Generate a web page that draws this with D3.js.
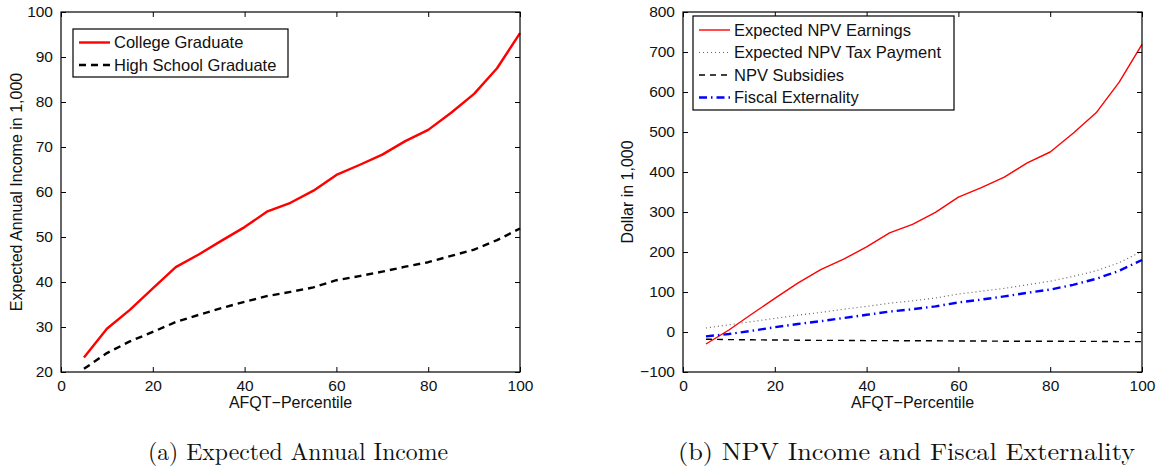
<!DOCTYPE html>
<html>
<head>
<meta charset="utf-8">
<script src="https://cdn.jsdelivr.net/npm/d3@7"></script>
<style>
  html, body { margin: 0; padding: 0; background: #fff; }
  svg { display: block; }
</style>
</head>
<body>
<svg id="chart" width="1161" height="471"></svg>
<script>
// AFQT percentiles shared by both panels
const percentiles = [5, 10, 15, 20, 25, 30, 35, 40, 45, 50, 55, 60, 65, 70, 75, 80, 85, 90, 95, 100];

// Panel (a): expected annual income, in 1,000
const collegeIncome = [23.2, 29.6, 33.8, 38.6, 43.3, 46.1, 49.2, 52.2, 55.7, 57.6, 60.3, 63.8, 66.0, 68.3, 71.3, 73.8, 77.6, 81.8, 87.5, 95.3];
const highSchoolIncome = [20.7, 24.2, 26.8, 28.9, 31.1, 32.7, 34.2, 35.6, 36.9, 37.8, 38.8, 40.4, 41.3, 42.3, 43.4, 44.4, 45.8, 47.2, 49.3, 51.9];

// Panel (b): NPV values, dollars in 1,000
const npvEarnings = [-30, 5, 45, 84, 122, 156, 182, 213, 248, 269, 299, 337, 361, 387, 423, 450, 497, 548, 624, 719];
const npvTaxPayment = [10, 18, 26, 34, 42, 49, 57, 64, 72, 78, 85, 95, 102, 109, 118, 127, 139, 153, 173, 202];
const npvSubsidies = [-18, -19, -19.5, -20, -20.5, -21, -21, -21.5, -21.5, -22, -22, -22.5, -22.5, -23, -23, -23, -23.5, -23.5, -24, -24];
const fiscalExternality = [-11, -5, 3, 12, 20, 27, 35, 43, 51, 57, 64, 74, 81, 89, 98, 106, 118, 133, 153, 180];

// Tick labels
const xTicks = [0, 20, 40, 60, 80, 100];
const yTicksA = [20, 30, 40, 50, 60, 70, 80, 90, 100];
const yTicksB = [-100, 0, 100, 200, 300, 400, 500, 600, 700, 800];

const svg = d3.select("#chart");
const sans = "'Liberation Sans', Arial, Helvetica, sans-serif";
const serif = "'Latin Modern Roman', 'CMU Serif', 'Liberation Serif', 'DejaVu Serif', serif";
const minus = v => String(v).replace("-", "\u2212");

function drawPanel(cfg) {
  const x = d3.scaleLinear().domain([0, 100]).range([cfg.left, cfg.right]);
  const y = d3.scaleLinear().domain(cfg.yDomain).range([cfg.bottom, cfg.top]);
  const g = svg.append("g");
  const tickLen = 5;

  // Series lines
  const line = d3.line().x((d, i) => x(percentiles[i])).y(d => y(d));
  cfg.series.forEach(s => {
    g.append("path")
      .attr("d", line(s.values))
      .attr("fill", "none")
      .attr("stroke", s.color)
      .attr("stroke-width", s.width)
      .attr("stroke-dasharray", s.dash || null)
      .attr("stroke-linejoin", "round");
  });

  // Axes: bottom/left with labels, top/right mirrored ticks (inside)
  const bottomAxis = d3.axisBottom(x).tickValues(xTicks).tickSizeInner(-tickLen).tickSizeOuter(0).tickPadding(8);
  const topAxis = d3.axisTop(x).tickValues(xTicks).tickSizeInner(-tickLen).tickSizeOuter(0).tickFormat("");
  const leftAxis = d3.axisLeft(y).tickValues(cfg.yTicks).tickSizeInner(-tickLen).tickSizeOuter(0).tickPadding(8).tickFormat(minus);
  const rightAxis = d3.axisRight(y).tickValues(cfg.yTicks).tickSizeInner(-tickLen).tickSizeOuter(0).tickFormat("");

  const axes = [
    g.append("g").attr("transform", `translate(0,${cfg.bottom})`).call(bottomAxis),
    g.append("g").attr("transform", `translate(0,${cfg.top})`).call(topAxis),
    g.append("g").attr("transform", `translate(${cfg.left},0)`).call(leftAxis),
    g.append("g").attr("transform", `translate(${cfg.right},0)`).call(rightAxis)
  ];
  axes.forEach(a => {
    a.select(".domain").remove();
    a.selectAll(".tick line").attr("stroke", "#000").attr("stroke-width", 1);
    a.selectAll(".tick text").attr("fill", "#111").style("font-family", sans).style("font-size", "15.5px");
  });

  // Plot frame
  g.append("rect")
    .attr("x", cfg.left).attr("y", cfg.top)
    .attr("width", cfg.right - cfg.left).attr("height", cfg.bottom - cfg.top)
    .attr("fill", "none").attr("stroke", "#000").attr("stroke-width", 1.2);

  // Axis titles
  g.append("text")
    .attr("x", (cfg.left + cfg.right) / 2).attr("y", cfg.bottom + 36)
    .attr("text-anchor", "middle")
    .style("font-family", sans).style("font-size", "16px").attr("fill", "#111")
    .text("AFQT\u2212Percentile");
  g.append("text")
    .attr("transform", `translate(${cfg.yTitleX},${(cfg.top + cfg.bottom) / 2}) rotate(-90)`)
    .attr("text-anchor", "middle")
    .style("font-family", sans).style("font-size", "16px").attr("fill", "#111")
    .text(cfg.yTitle);

  // Legend
  const lg = cfg.legend;
  g.append("rect")
    .attr("x", lg.x).attr("y", lg.y).attr("width", lg.w).attr("height", lg.h)
    .attr("fill", "#fff").attr("stroke", "#000").attr("stroke-width", 1.2);
  cfg.series.forEach((s, i) => {
    const ry = lg.y + lg.first + i * lg.step;
    g.append("line")
      .attr("x1", lg.x + 6).attr("x2", lg.x + 37)
      .attr("y1", ry).attr("y2", ry)
      .attr("stroke", s.color).attr("stroke-width", s.width)
      .attr("stroke-dasharray", s.dash || null);
    g.append("text")
      .attr("x", lg.x + 41).attr("y", ry)
      .attr("dy", "0.35em")
      .style("font-family", sans).style("font-size", "16.5px").attr("fill", "#111")
      .text(s.name);
  });

  // Caption
  svg.append("text")
    .attr("x", cfg.captionX).attr("y", 460)
    .attr("text-anchor", "middle")
    .attr("textLength", cfg.captionWidth)
    .attr("lengthAdjust", "spacingAndGlyphs")
    .style("font-family", serif).style("font-size", "24px").attr("fill", "#111")
    .text(cfg.caption);
}

drawPanel({
  left: 61, right: 520, top: 12, bottom: 372,
  yDomain: [20, 100], yTicks: yTicksA,
  yTitle: "Expected Annual Income in 1,000", yTitleX: 22,
  caption: "(a) Expected Annual Income", captionX: 298, captionWidth: 300,
  legend: { x: 73, y: 29, w: 215, h: 48, first: 13.5, step: 22.5 },
  series: [
    { name: "College Graduate", values: collegeIncome, color: "#ff0000", width: 2.4 },
    { name: "High School Graduate", values: highSchoolIncome, color: "#000", width: 2.4, dash: "7,5" }
  ]
});

drawPanel({
  left: 683, right: 1142, top: 12, bottom: 372,
  yDomain: [-100, 800], yTicks: yTicksB,
  yTitle: "Dollar in 1,000", yTitleX: 633,
  caption: "(b) NPV Income and Fiscal Externality", captionX: 906.5, captionWidth: 457,
  legend: { x: 693, y: 16, w: 261, h: 94, first: 14, step: 22.5 },
  series: [
    { name: "Expected NPV Earnings", values: npvEarnings, color: "#ff0000", width: 1.4 },
    { name: "Expected NPV Tax Payment", values: npvTaxPayment, color: "#666", width: 1.2, dash: "1,3" },
    { name: "NPV Subsidies", values: npvSubsidies, color: "#000", width: 1.4, dash: "6,5" },
    { name: "Fiscal Externality", values: fiscalExternality, color: "#0000ff", width: 2.4, dash: "8,4,1.5,4" }
  ]
});
</script>
</body>
</html>
